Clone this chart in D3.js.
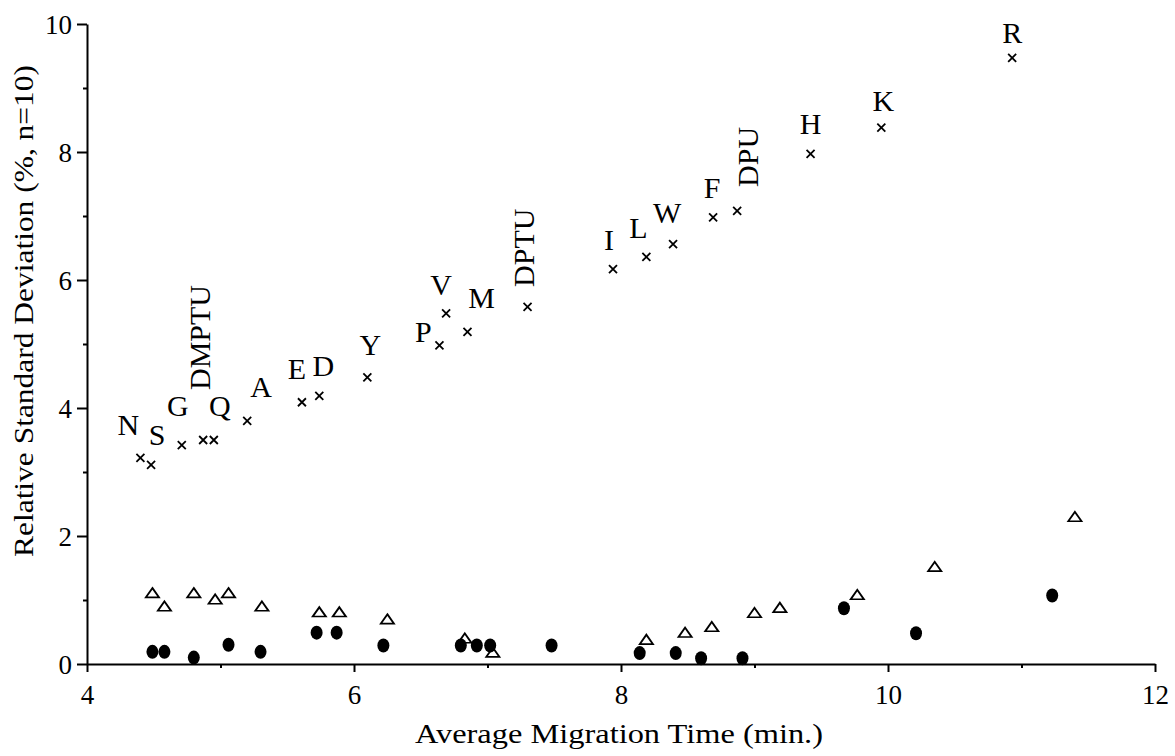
<!doctype html>
<html>

<head>
    <style>
        body { margin: 0; background: #fff; }
        svg text { font-family: "Liberation Serif", "DejaVu Serif", serif; fill: #000; }
        .axis path, .axis line { stroke: #000; stroke-width: 2; }
        .axis text { font-size: 27px; font-family: "Liberation Serif", serif; }
        .cross { stroke: #000; stroke-width: 1.8; fill: none; }
        .tri { stroke: #000; stroke-width: 1.8; fill: #fff; }
        .dot { fill: #000; }
        .lbl { font-size: 30px; }
    </style>
    <script src="https://d3js.org/d3.v7.min.js"></script>
</head>

<body>
    <svg width="1175" height="756"></svg>
    <script>

        // upper series (x), labelled
        var crossTime = [4.40, 4.48, 4.71, 4.87, 4.95, 5.20, 5.61, 5.74, 6.10, 6.64, 6.69, 6.85, 7.30, 7.94, 8.19, 8.39, 8.69, 8.87, 9.42, 9.95, 10.93];
        var crossRsd = [3.22, 3.11, 3.42, 3.50, 3.50, 3.80, 4.09, 4.19, 4.48, 4.98, 5.48, 5.19, 5.58, 6.17, 6.36, 6.56, 6.98, 7.08, 7.97, 8.38, 9.47];
        var crossLabel = ["N", "S", "G", "DMPTU", "Q", "A", "E", "D", "Y", "P", "V", "M", "DPTU", "I", "L", "W", "F", "DPU", "H", "K", "R"];

        // open triangles
        var triTime = [4.49, 4.58, 4.80, 4.96, 5.06, 5.31, 5.74, 5.89, 6.25, 6.83, 7.04, 8.19, 8.48, 8.68, 9.00, 9.19, 9.77, 10.35, 11.40];
        var triRsd = [1.09, 0.88, 1.09, 0.99, 1.09, 0.88, 0.79, 0.79, 0.68, 0.38, 0.16, 0.36, 0.47, 0.56, 0.78, 0.86, 1.06, 1.50, 2.28];

        // filled circles
        var dotTime = [4.49, 4.58, 4.80, 5.06, 5.30, 5.72, 5.87, 6.22, 6.80, 6.92, 7.02, 7.48, 8.14, 8.41, 8.60, 8.91, 9.67, 10.21, 11.23];
        var dotRsd = [0.19, 0.19, 0.10, 0.30, 0.19, 0.49, 0.49, 0.29, 0.29, 0.29, 0.29, 0.29, 0.17, 0.17, 0.09, 0.09, 0.87, 0.48, 1.07];

        var xTicks = [4, 6, 8, 10, 12];
        var yTicks = [0, 2, 4, 6, 8, 10];

        // label nudges in px relative to the cross (dx, dy), vertical flag
        var labelNudge = [
            [-12, -23], [6, -20], [-4, -29], [7, -50, 1], [6, -24], [14, -24],
            [-5, -23], [4, -20], [3, -22], [-16, -3], [-5, -18], [14, -24],
            [6, -20, 1], [-4, -19], [-8, -19], [-6, -21], [-1, -19], [21, -24, 1],
            [0, -20], [2, -17], [0, -15]
        ];

        var svg = d3.select("svg"),
            plotL = 87, plotR = 1155, plotT = 24, plotB = 664;

        var x = d3.scaleLinear().domain([4, 12]).range([plotL, plotR]),
            y = d3.scaleLinear().domain([0, 10]).range([plotB, plotT]);

        // minor ticks
        svg.append("g").attr("class", "axis")
            .attr("transform", "translate(0," + plotB + ")")
            .call(d3.axisBottom(x).tickValues([5, 7, 9, 11]).tickSize(4).tickFormat(""))
            .select(".domain").remove();
        svg.append("g").attr("class", "axis")
            .attr("transform", "translate(" + plotL + ",0)")
            .call(d3.axisLeft(y).tickValues([1, 3, 5, 7, 9]).tickSize(4).tickFormat(""))
            .select(".domain").remove();

        var xAxis = svg.append("g").attr("class", "axis")
            .attr("transform", "translate(0," + plotB + ")")
            .call(d3.axisBottom(x).tickValues(xTicks).tickSize(8).tickSizeOuter(0).tickPadding(13));
        xAxis.selectAll("text").attr("dy", "0.71em");

        var yAxis = svg.append("g").attr("class", "axis")
            .attr("transform", "translate(" + plotL + ",0)")
            .call(d3.axisLeft(y).tickValues(yTicks).tickSize(10).tickSizeOuter(0).tickPadding(5));
        yAxis.selectAll("text").attr("dy", "0.35em");

        svg.append("text")
            .attr("x", 619).attr("y", 743)
            .attr("text-anchor", "middle")
            .attr("font-size", "28px")
            .attr("textLength", 408).attr("lengthAdjust", "spacingAndGlyphs")
            .text("Average Migration Time (min.)");

        svg.append("text")
            .attr("transform", "translate(33,311) rotate(-90)")
            .attr("text-anchor", "middle")
            .attr("font-size", "28px")
            .attr("textLength", 492).attr("lengthAdjust", "spacingAndGlyphs")
            .text("Relative Standard Deviation (%, n=10)");

        // triangles under the circles
        var tri = d3.symbol().type(d3.symbolTriangle).size(62);
        svg.selectAll(".tri")
            .data(triTime)
            .enter().append("path")
            .attr("class", "tri")
            .attr("d", tri)
            .attr("transform", (d, i) => "translate(" + x(d) + "," + y(triRsd[i]) + ") scale(1.1,0.9)");

        svg.selectAll(".dot")
            .data(dotTime)
            .enter().append("ellipse")
            .attr("class", "dot")
            .attr("cx", d => x(d))
            .attr("cy", (d, i) => y(dotRsd[i]))
            .attr("rx", 6)
            .attr("ry", 7);

        svg.selectAll(".cross")
            .data(crossTime)
            .enter().append("path")
            .attr("class", "cross")
            .attr("d", (d, i) => {
                var cx = x(d), cy = y(crossRsd[i]), s = 4;
                return "M" + (cx - s) + "," + (cy - s) + "L" + (cx + s) + "," + (cy + s) +
                    "M" + (cx - s) + "," + (cy + s) + "L" + (cx + s) + "," + (cy - s);
            });

        svg.selectAll(".lbl")
            .data(crossLabel)
            .enter().append("text")
            .attr("class", "lbl")
            .attr("text-anchor", (d, i) => labelNudge[i][2] ? "start" : "middle")
            .attr("transform", (d, i) => {
                var n = labelNudge[i];
                var t = "translate(" + (x(crossTime[i]) + n[0]) + "," + (y(crossRsd[i]) + n[1]) + ")";
                return n[2] ? t + " rotate(-90)" : t;
            })
            .text(d => d);
    </script>
</body>

</html>
